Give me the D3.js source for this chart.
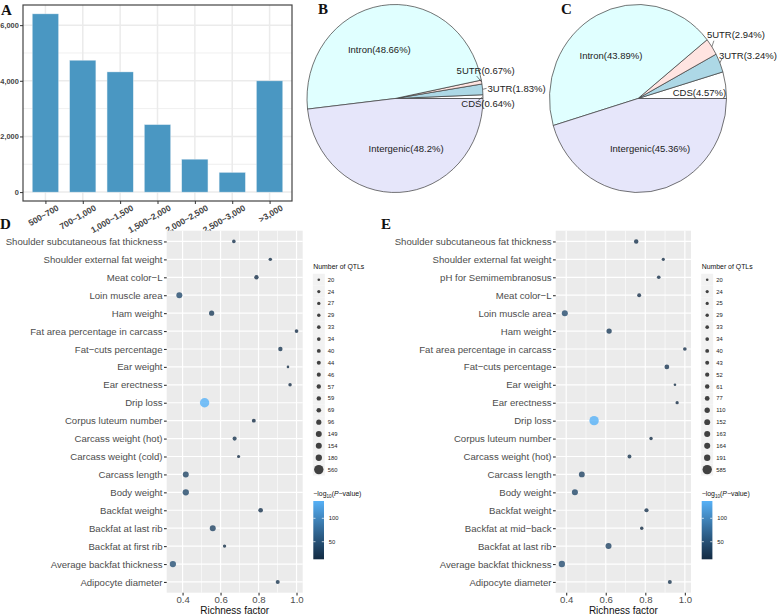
<!DOCTYPE html>
<html>
<head>
<meta charset="utf-8">
<script src="https://cdn.jsdelivr.net/npm/d3@7"></script>
<style>
  body { margin: 0; background: #fff; }
</style>
</head>
<body>
<script>
// ---- data ----
const lengthBins = ["500~700", "700~1,000", "1,000~1,500", "1,500~2,000", "2,000~2,500", "2,500~3,000", ">3,000"];
const lengthCounts = [6404, 4737, 4318, 2422, 1181, 705, 3996];

const regionNames = ["CDS", "3UTR", "5UTR", "Intron", "Intergenic"];
const regionPctB = [0.64, 1.83, 0.67, 48.66, 48.2];
const regionPctC = [4.57, 3.24, 2.94, 43.89, 45.36];
const regionColors = ["#ffffff", "#add8e6", "#ffe4e1", "#e0ffff", "#e6e6fa"];

const traitsD = ["Shoulder subcutaneous fat thickness", "Shoulder external fat weight", "Meat color\u2212L",
  "Loin muscle area", "Ham weight", "Fat area percentage in carcass", "Fat\u2212cuts percentage", "Ear weight",
  "Ear erectness", "Drip loss", "Corpus luteum number", "Carcass weight (hot)", "Carcass weight (cold)",
  "Carcass length", "Body weight", "Backfat weight", "Backfat at last rib", "Backfat at first rib",
  "Average backfat thickness", "Adipocyte diameter"];
const richD = [0.670, 0.862, 0.789, 0.383, 0.553, 1.0, 0.915, 0.955, 0.966, 0.516, 0.775, 0.674, 0.695,
  0.417, 0.417, 0.811, 0.559, 0.621, 0.349, 0.901];
const qtlD = [33, 29, 57, 154, 96, 34, 59, 20, 29, 560, 40, 46, 24, 149, 180, 69, 154, 27, 180, 44];
const logpD = [20, 15, 18, 45, 30, 16, 25, 13, 14, 137, 15, 22, 12.4, 40, 42, 20, 38, 17, 50, 22];
const qtlLegendD = [20, 24, 27, 29, 33, 34, 40, 44, 46, 57, 59, 69, 96, 149, 154, 180, 560];

const traitsE = ["Shoulder subcutaneous fat thickness", "Shoulder external fat weight", "pH for Semimembranosus",
  "Meat color\u2212L", "Loin muscle area", "Ham weight", "Fat area percentage in carcass", "Fat\u2212cuts percentage",
  "Ear weight", "Ear erectness", "Drip loss", "Corpus luteum number", "Carcass weight (hot)", "Carcass length",
  "Body weight", "Backfat weight", "Backfat at mid\u2212back", "Backfat at last rib", "Average backfat thickness",
  "Adipocyte diameter"];
const richE = [0.754, 0.891, 0.868, 0.769, 0.393, 0.617, 1.0, 0.909, 0.950, 0.961, 0.541, 0.829, 0.720,
  0.479, 0.444, 0.806, 0.782, 0.614, 0.378, 0.924];
const qtlE = [61, 24, 33, 43, 163, 110, 34, 77, 20, 25, 585, 29, 40, 152, 164, 52, 29, 164, 191, 43];
const logpE = [20, 15, 16, 18, 44, 30, 16, 24, 13, 14, 137, 15, 22, 38, 42, 20, 12.4, 38, 48, 22];
const qtlLegendE = [20, 24, 25, 29, 33, 34, 40, 43, 52, 61, 77, 110, 152, 163, 164, 191, 585];

const logpTicks = [50, 100];

// ---- page ----
const FONT = "'Liberation Sans', Arial, Helvetica, sans-serif";
const svg = d3.select("body").append("svg")
  .attr("width", 778).attr("height", 615)
  .style("font-family", FONT);

function panelLetter(txt, x, y) {
  svg.append("text").attr("x", x).attr("y", y).text(txt)
    .attr("font-family", "'Liberation Serif', 'Times New Roman', serif")
    .attr("font-weight", "bold").attr("font-size", 15).attr("fill", "#111");
}

// ---- A: length distribution ----
const A = { left: 23, right: 292, top: 5, bottom: 201 };
const xA = d3.scalePoint().domain(lengthBins).range([A.left, A.right]).padding(0.6);
const maxA = d3.max(lengthCounts);
const yA = d3.scaleLinear().domain([-0.05 * maxA, 1.05 * maxA]).range([A.bottom, A.top]);
const gA = svg.append("g");

gA.append("rect").attr("x", A.left).attr("y", A.top)
  .attr("width", A.right - A.left).attr("height", A.bottom - A.top).attr("fill", "#fff");
gA.selectAll("line.minor").data([1000, 3000, 5000]).join("line").attr("class", "minor")
  .attr("x1", A.left).attr("x2", A.right).attr("y1", d => yA(d)).attr("y2", d => yA(d))
  .attr("stroke", "#ebebeb").attr("stroke-width", 0.8);
gA.selectAll("line.major").data([0, 2000, 4000, 6000]).join("line").attr("class", "major")
  .attr("x1", A.left).attr("x2", A.right).attr("y1", d => yA(d)).attr("y2", d => yA(d))
  .attr("stroke", "#ebebeb").attr("stroke-width", 1.5);
gA.selectAll("line.vgrid").data(lengthBins).join("line").attr("class", "vgrid")
  .attr("x1", d => xA(d)).attr("x2", d => xA(d)).attr("y1", A.top).attr("y2", A.bottom)
  .attr("stroke", "#ebebeb").attr("stroke-width", 1.5);

const bw = xA.step() * 0.7;
gA.selectAll("rect.bar").data(lengthCounts).join("rect").attr("class", "bar")
  .attr("x", (d, i) => xA(lengthBins[i]) - bw / 2)
  .attr("y", d => yA(d))
  .attr("width", bw)
  .attr("height", d => yA(0) - yA(d))
  .attr("fill", "#4a97c2")
  .attr("stroke", "#d6e6f0").attr("stroke-width", 0.4);

gA.append("rect").attr("x", A.left).attr("y", A.top)
  .attr("width", A.right - A.left).attr("height", A.bottom - A.top)
  .attr("fill", "none").attr("stroke", "#444").attr("stroke-width", 1.2);

const axAy = gA.append("g").attr("transform", `translate(${A.left},0)`)
  .call(d3.axisLeft(yA).tickValues([0, 2000, 4000, 6000]).tickFormat(d3.format(",")).tickSize(3).tickPadding(1.2));
axAy.attr("font-family", null).select(".domain").remove();
axAy.selectAll("line").attr("stroke", "#333");
axAy.selectAll("text").attr("font-size", 7.4).attr("font-weight", "bold").attr("fill", "#444");

const axAx = gA.append("g").attr("transform", `translate(0,${A.bottom})`)
  .call(d3.axisBottom(xA).tickSize(3));
axAx.attr("font-family", null).select(".domain").remove();
axAx.selectAll("line").attr("stroke", "#333");
axAx.selectAll("text")
  .attr("y", 0).attr("dy", "0.35em")
  .attr("transform", "translate(12,6) rotate(-30)")
  .style("text-anchor", "end")
  .attr("font-size", 8.5).attr("font-weight", "bold").attr("fill", "#444");

panelLetter("A", 1, 15);

// ---- B, C: pies ----
function drawPie(cx, cy, rx, ry, pct, turn, small) {
  const pie = d3.pie().sort(null).startAngle(Math.PI / 2).endAngle(Math.PI / 2 - 2 * Math.PI);
  const arcs = pie(pct);
  const arc = d3.arc().innerRadius(0).outerRadius(100);
  const g = svg.append("g").attr("transform", `translate(${cx},${cy}) scale(${rx / 100},${ry / 100})`);
  g.selectAll("path").data(arcs).join("path")
    .attr("d", arc)
    .attr("fill", (d, i) => regionColors[i])
    .attr("stroke", "#3a3a3a").attr("stroke-width", 0.7)
    .attr("vector-effect", "non-scaling-stroke");

  const at = (a, k) => [cx + rx * k * Math.sin(a), cy - ry * k * Math.cos(a)];
  arcs.forEach((d, i) => {
    const label = `${regionNames[i]}(${pct[i]}%)`;
    const mid = (d.startAngle + d.endAngle) / 2;
    if (small[regionNames[i]]) {
      const s = small[regionNames[i]];
      const [ex, ey] = at(mid, 1);
      if (s.lead) {
        svg.append("line").attr("x1", ex).attr("y1", ey)
          .attr("x2", ex + s.lead[0]).attr("y2", ey + s.lead[1])
          .attr("stroke", "#333").attr("stroke-width", 0.6);
      }
      svg.append("text").attr("x", ex + s.dx).attr("y", ey + s.dy)
        .attr("text-anchor", s.anchor).attr("font-size", 9.5).attr("fill", "#222").text(label);
    } else {
      const [lx, ly] = at(mid - turn, 0.55);
      svg.append("text").attr("x", lx).attr("y", ly).attr("dy", "0.35em")
        .attr("text-anchor", "middle").attr("font-size", 9.5).attr("fill", "#222").text(label);
    }
  });
}

drawPie(395, 98.5, 88, 94, regionPctB, 10 * Math.PI / 180, {
  "5UTR": { dx: 4, dy: -8.5, anchor: "middle", lead: [-5, -6] },
  "3UTR": { dx: 5, dy: 3, anchor: "start", lead: [4, -1] },
  "CDS": { dx: 5, dy: 10.5, anchor: "middle", lead: [-5, 4] }
});
drawPie(638, 98.5, 88.5, 94, regionPctC, 6 * Math.PI / 180, {
  "5UTR": { dx: -5, dy: -9, anchor: "start", lead: [2, -6] },
  "3UTR": { dx: -1, dy: -4, anchor: "start", lead: [2, -4] },
  "CDS": { dx: 0.5, dy: 10.5, anchor: "end" }
});
panelLetter("B", 318, 14);
panelLetter("C", 561, 14);

// ---- D, E: enrichment dot plots ----
function dotPanel(P, traits, rich, qtl, logp, qtlLegend) {
  const g = svg.append("g");
  const lo = d3.min(rich), hi = d3.max(rich), pad = 0.05 * (hi - lo);
  const x = d3.scaleLinear().domain([lo - pad, hi + pad]).range([P.left, P.right]);
  const y = d3.scalePoint().domain(traits).range([P.top, P.bottom]).padding(0.6);
  const qMin = d3.min(qtl), qMax = d3.max(qtl);
  const qNorm = d3.scaleLinear().domain([qMin, qMax]).range([0, 1]);
  const rArea = d3.scaleSqrt().domain([0, 1]).range([1.3, 4.7]);
  const r = v => rArea(qNorm(v));
  const color = d3.scaleLinear().domain(d3.extent(logp)).range(["#132B43", "#56B1F7"])
    .interpolate(d3.interpolateLab);

  g.append("rect").attr("x", P.left).attr("y", P.top)
    .attr("width", P.right - P.left).attr("height", P.bottom - P.top).attr("fill", "#ebebeb");
  const minorX = [0.3, 0.5, 0.7, 0.9].filter(v => v > x.domain()[0] && v < x.domain()[1]);
  g.selectAll("line.mx").data(minorX).join("line").attr("class", "mx")
    .attr("x1", d => x(d)).attr("x2", d => x(d)).attr("y1", P.top).attr("y2", P.bottom)
    .attr("stroke", "#fff").attr("stroke-width", 0.6);
  g.selectAll("line.jx").data([0.4, 0.6, 0.8, 1.0]).join("line").attr("class", "jx")
    .attr("x1", d => x(d)).attr("x2", d => x(d)).attr("y1", P.top).attr("y2", P.bottom)
    .attr("stroke", "#fff").attr("stroke-width", 1.2);
  g.selectAll("line.jy").data(traits).join("line").attr("class", "jy")
    .attr("x1", P.left).attr("x2", P.right).attr("y1", d => y(d)).attr("y2", d => y(d))
    .attr("stroke", "#fff").attr("stroke-width", 1.2);

  g.selectAll("circle.pt").data(traits).join("circle").attr("class", "pt")
    .attr("cx", (d, i) => x(rich[i]))
    .attr("cy", d => y(d))
    .attr("r", (d, i) => r(qtl[i]))
    .attr("fill", (d, i) => color(logp[i]))
    .attr("fill-opacity", 0.8);

  const ay = g.append("g").attr("transform", `translate(${P.left},0)`)
    .call(d3.axisLeft(y).tickSize(2.7).tickPadding(1.5));
  ay.attr("font-family", null).select(".domain").remove();
  ay.selectAll("line").attr("stroke", "#333").attr("stroke-width", 1.1);
  ay.selectAll("text").attr("font-size", 9.6).attr("fill", "#4d4d4d");

  const ax = g.append("g").attr("transform", `translate(0,${P.bottom})`)
    .call(d3.axisBottom(x).tickValues([0.4, 0.6, 0.8, 1.0]).tickFormat(d3.format(".1f")).tickSize(2.7).tickPadding(0.8));
  ax.attr("font-family", null).select(".domain").remove();
  ax.selectAll("line").attr("stroke", "#333").attr("stroke-width", 1.1);
  ax.selectAll("text").attr("font-size", 9.6).attr("fill", "#4d4d4d");

  g.append("text").attr("x", (P.left + P.right) / 2).attr("y", 613.6)
    .attr("text-anchor", "middle").attr("font-size", 10).attr("fill", "#111").text("Richness factor");

  // size legend
  const L = P.legend;
  g.append("text").attr("x", L).attr("y", 269.3).attr("font-size", 6.9).attr("fill", "#111").text("Number of QTLs");
  const ky = d3.scalePoint().domain(qtlLegend).range([279.7, 469.6]);
  const keyH = ky.step();
  g.selectAll("rect.key").data(qtlLegend).join("rect").attr("class", "key")
    .attr("x", L - 0.5).attr("y", d => ky(d) - keyH / 2).attr("width", 12).attr("height", keyH)
    .attr("fill", "#f2f2f2");
  g.selectAll("circle.key").data(qtlLegend).join("circle").attr("class", "key")
    .attr("cx", L + 5.5).attr("cy", d => ky(d)).attr("r", d => r(d))
    .attr("fill", "#222").attr("fill-opacity", 0.85);
  g.selectAll("text.key").data(qtlLegend).join("text").attr("class", "key")
    .attr("x", L + 14.5).attr("y", d => ky(d)).attr("dy", "0.35em")
    .attr("font-size", 5.8).attr("fill", "#222").text(d => d);

  // colour bar
  const cb = d3.scaleLinear().domain(d3.extent(logp)).range([559.3, 501]);
  const gid = "grad" + Math.round(L);
  const grad = svg.append("defs").append("linearGradient").attr("id", gid)
    .attr("x1", 0).attr("y1", 1).attr("x2", 0).attr("y2", 0);
  d3.range(0, 1.0001, 0.1).forEach(t => {
    const v = cb.domain()[0] + t * (cb.domain()[1] - cb.domain()[0]);
    grad.append("stop").attr("offset", t).attr("stop-color", color(v));
  });
  g.append("rect").attr("x", L).attr("y", 501).attr("width", 10.7).attr("height", 58.3)
    .attr("fill", `url(#${gid})`);
  logpTicks.forEach(t => {
    [[L, L + 2.2], [L + 8.5, L + 10.7]].forEach(([a, b]) => {
      g.append("line").attr("x1", a).attr("x2", b).attr("y1", cb(t)).attr("y2", cb(t))
        .attr("stroke", "#fff").attr("stroke-width", 0.7);
    });
    g.append("text").attr("x", L + 15.5).attr("y", cb(t)).attr("dy", "0.35em")
      .attr("font-size", 5.8).attr("fill", "#222").text(t);
  });
  const tt = g.append("text").attr("x", L).attr("y", 496).attr("font-size", 6.9).attr("fill", "#111");
  tt.append("tspan").text("\u2212log");
  tt.append("tspan").attr("font-size", 4.6).attr("dy", 2).text("10");
  tt.append("tspan").attr("dy", -2).text("(");
  tt.append("tspan").attr("font-style", "italic").text("P");
  tt.append("tspan").text("\u2212value)");
}

dotPanel({ left: 166.7, right: 302.7, top: 230.7, bottom: 592.7, legend: 313.3 },
  traitsD, richD, qtlD, logpD, qtlLegendD);
dotPanel({ left: 555.7, right: 691, top: 230.7, bottom: 592.7, legend: 701.7 },
  traitsE, richE, qtlE, logpE, qtlLegendE);
panelLetter("D", 0, 229);
panelLetter("E", 381, 229);
</script>
</body>
</html>
